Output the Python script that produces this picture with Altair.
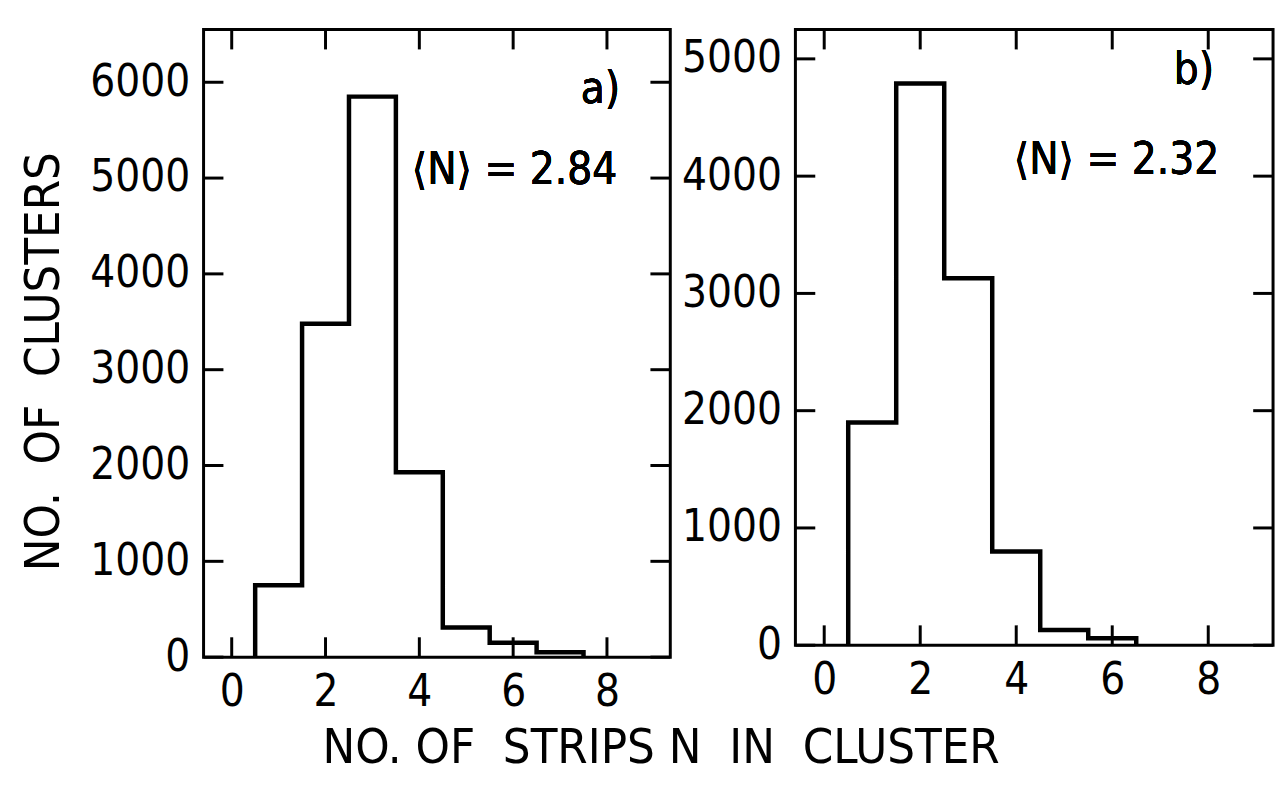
import altair as alt
import pandas as pd

FONT = "Liberation Sans Narrow, DejaVu Sans Condensed, sans-serif"

# ---- data ----
strips_a = [1, 2, 3, 4, 5, 6, 7]
counts_a = [750, 3480, 5850, 1930, 310, 150, 50]

strips_b = [1, 2, 3, 4, 5, 6]
counts_b = [1900, 4790, 3130, 800, 130, 60]

x_ticks = [0, 2, 4, 6, 8]
y_ticks_a = [0, 1000, 2000, 3000, 4000, 5000, 6000]
y_ticks_b = [0, 1000, 2000, 3000, 4000, 5000]

panel_labels = ["a)", "b)"]
mean_labels = ["\u27e8N\u27e9 = 2.84", "\u27e8N\u27e9 = 2.32"]

y_title = "NO.\u00a0 OF\u00a0 CLUSTERS"
x_title = "NO. OF \u00a0STRIPS N \u00a0IN \u00a0CLUSTER"


def outline(strips, counts):
    rows = [{"x": strips[0] - 0.5, "y": 0}]
    for s, c in zip(strips, counts):
        rows.append({"x": s - 0.5, "y": c})
    rows.append({"x": strips[-1] + 0.5, "y": counts[-1]})
    rows.append({"x": strips[-1] + 0.5, "y": 0})
    df = pd.DataFrame(rows)
    df["i"] = range(len(df))
    return df


def panel(strips, counts, yticks, ymax, width, height, label, mean_text,
          label_pos, mean_pos, show_title):
    xs = alt.Scale(domain=[-0.6, 9.35], nice=False, zero=False)
    ys = alt.Scale(domain=[0, ymax], nice=False)
    tick_len = 20

    yaxis_kwargs = dict(values=yticks, ticks=False, domain=False, grid=False,
                        labelFont=FONT, labelFontSize=44, labelPadding=14,
                        labelColor="black", format="d")
    if show_title:
        yaxis = alt.Axis(title=y_title, titleFont=FONT, titleFontSize=49,
                         titleFontWeight="normal", titleColor="black",
                         titleAngle=270, titleAlign="center",
                         titleBaseline="alphabetic", titleX=-146, titleY=334,
                         **yaxis_kwargs)
    else:
        yaxis = alt.Axis(title=None, **yaxis_kwargs)

    xaxis = alt.Axis(values=x_ticks, ticks=False, domain=False, grid=False,
                     labelFont=FONT, labelFontSize=44, labelPadding=14,
                     labelColor="black", title=None)

    hist = alt.Chart(outline(strips, counts)).mark_line(
        color="black", strokeWidth=4.5, interpolate="step-after"
    ).encode(
        x=alt.X("x:Q", scale=xs, axis=xaxis),
        y=alt.Y("y:Q", scale=ys, axis=yaxis),
        order=alt.Order("i:Q"),
    )

    ydf = pd.DataFrame({"v": yticks})
    xdf = pd.DataFrame({"v": x_ticks})

    left_t = alt.Chart(ydf).mark_rule(color="black", strokeWidth=3).encode(
        y=alt.Y("v:Q", scale=ys, axis=yaxis),
        x=alt.value(0), x2=alt.value(tick_len))
    right_t = alt.Chart(ydf).mark_rule(color="black", strokeWidth=3).encode(
        y=alt.Y("v:Q", scale=ys, axis=yaxis),
        x=alt.value(width - tick_len), x2=alt.value(width))
    bottom_t = alt.Chart(xdf).mark_rule(color="black", strokeWidth=3).encode(
        x=alt.X("v:Q", scale=xs, axis=xaxis),
        y=alt.value(height), y2=alt.value(height - tick_len))
    top_t = alt.Chart(xdf).mark_rule(color="black", strokeWidth=3).encode(
        x=alt.X("v:Q", scale=xs, axis=xaxis),
        y=alt.value(0), y2=alt.value(tick_len))

    lab = alt.Chart(ydf).mark_text(
        font=FONT, fontSize=44, align="center", baseline="middle", color="black"
    ).encode(x=alt.datum(label_pos[0]), y=alt.datum(label_pos[1]),
             text=alt.value(label))
    mean = alt.Chart(ydf).mark_text(
        font=FONT, fontSize=44, align="center", baseline="middle", color="black"
    ).encode(x=alt.datum(mean_pos[0]), y=alt.datum(mean_pos[1]),
             text=alt.value(mean_text))

    return alt.layer(hist, left_t, right_t, bottom_t, top_t, lab, mean).properties(
        width=width, height=height)


pa = panel(strips_a, counts_a, y_ticks_a, 6550, 470, 632,
           panel_labels[0], mean_labels[0], (7.86, 5920), (6.03, 5075), True)
pb = panel(strips_b, counts_b, y_ticks_b, 5250, 481, 620,
           panel_labels[1], mean_labels[1], (7.70, 4892), (6.09, 4130), False)

chart = alt.hconcat(pa, pb, spacing=126, bounds="flush").properties(
    title=alt.TitleParams(x_title, orient="bottom", anchor="middle", font=FONT,
                          fontSize=49, fontWeight="normal", color="black",
                          offset=8, dx=14),
    padding={"left": 18, "top": 24, "right": 4, "bottom": 10},
).configure(
    background="white",
    view=alt.ViewConfig(stroke="black", strokeWidth=3),
)

chart.save("out.html", embed_options={"renderer": "svg", "actions": False})
